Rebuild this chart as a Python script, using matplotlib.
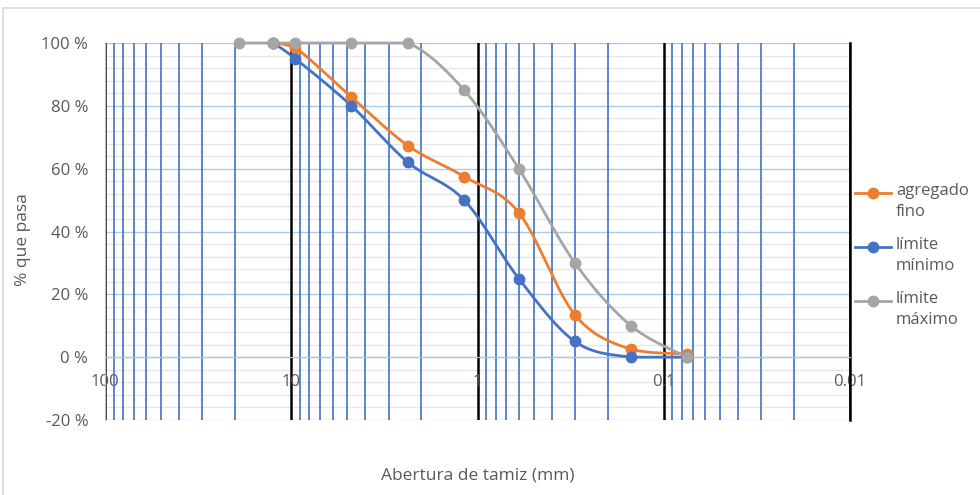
import numpy as np
import matplotlib.pyplot as plt
from matplotlib.lines import Line2D
from matplotlib.patches import Rectangle
from matplotlib.ticker import FixedLocator, FuncFormatter

plt.rcParams['font.family'] = ['Open Sans', 'DejaVu Sans']

# Data: sieve openings (mm) and % passing
sieve_fino = [12.5, 9.5, 4.75, 2.36, 1.18, 0.6, 0.3, 0.15, 0.075]
pasa_fino = [100, 98.5, 82.8, 67.3, 57.5, 46, 13.5, 2.5, 1]

sieve_min = [12.5, 9.5, 4.75, 2.36, 1.18, 0.6, 0.3, 0.15, 0.075]
pasa_min = [100, 95, 80, 62, 50, 25, 5, 0, 0]

sieve_max = [19, 12.5, 9.5, 4.75, 2.36, 1.18, 0.6, 0.3, 0.15, 0.075]
pasa_max = [100, 100, 100, 100, 100, 85, 60, 30, 10, 0]

labels = ['agregado\nfino', 'límite\nmínimo', 'límite\nmáximo']
colors = ['#ED7D31', '#4472C4', '#A5A5A5']
x_major = [100, 10, 1, 0.1, 0.01]
x_major_labels = ['100', '10', '1', '0.1', '0.01']
y_major = [-20, 0, 20, 40, 60, 80, 100]


def smooth(xs, ys, n=30):
    """Excel-like smoothed line (bezier) in log-x space, no overshoot"""
    px = np.log10(np.asarray(xs, float))
    py = np.asarray(ys, float)
    P = np.column_stack([px, py])
    P = np.vstack([P[0], P, P[-1]])
    out = []
    t = np.linspace(0, 1, n)[:, None]
    for i in range(1, len(P) - 2):
        p0, p3 = P[i], P[i + 1]
        c1 = p0 + (P[i + 1] - P[i - 1]) / 6
        c2 = p3 - (P[i + 2] - P[i]) / 6
        lo, hi = min(p0[1], p3[1]), max(p0[1], p3[1])
        c1[1] = np.clip(c1[1], lo, hi)
        c2[1] = np.clip(c2[1], lo, hi)
        seg = ((1 - t) ** 3) * p0 + 3 * ((1 - t) ** 2) * t * c1 \
            + 3 * (1 - t) * t ** 2 * c2 + t ** 3 * p3
        out.append(seg)
    seg = np.vstack(out)
    return 10 ** seg[:, 0], seg[:, 1]


fig = plt.figure(figsize=(9.8, 4.95), dpi=100)
fig.patches.append(Rectangle((3 / 980, -0.1), 1.2, 1 - 8 / 495 + 0.1,
                             transform=fig.transFigure, fill=False,
                             edgecolor='#D9D9D9', lw=1.2))
ax = fig.add_axes([105 / 980, 1 - 420 / 495, 745 / 980, 377 / 495])

ax.set_xscale('log')
ax.set_xlim(100, 0.01)
ax.set_ylim(-20, 100)

minor = [m * 10.0 ** k for k in range(-2, 2) for m in range(2, 10)]
ax.xaxis.set_major_locator(FixedLocator(x_major))
ax.xaxis.set_minor_locator(FixedLocator(minor))
ax.set_xticklabels(x_major_labels)
ax.xaxis.set_minor_formatter(FuncFormatter(lambda v, p: ''))
ax.yaxis.set_major_locator(FixedLocator(y_major))
ax.yaxis.set_minor_locator(FixedLocator(list(range(-20, 101, 4))))
ax.yaxis.set_major_formatter(FuncFormatter(lambda v, p: f'{v:.0f} %'))

ax.set_axisbelow(True)
ax.grid(which='minor', axis='y', color='#E6E6E6', lw=1)
ax.grid(which='major', axis='y', color='#A9CCEB', lw=1)
ax.grid(which='minor', axis='x', color='#4472C4', lw=1.2)
ax.grid(which='major', axis='x', color='black', lw=1.8)
# vertical lines sit over the horizontal ones
ax.xaxis.set_zorder(0.7)
ax.xaxis.get_major_ticks()[0].gridline.set_visible(False)
# right edge major line (0.01) is clipped by the axes, redraw it
ax.axvline(x_major[-1], color='black', lw=1.8, clip_on=False, zorder=0.8)

for s in ['top', 'right']:
    ax.spines[s].set_visible(False)
ax.spines['bottom'].set_position(('data', 0))
ax.spines['bottom'].set_color('#BFBFBF')
ax.spines['left'].set_color('#BFBFBF')
ax.spines['left'].set_zorder(3)
ax.tick_params(which='both', length=0)
ax.tick_params(axis='x', pad=12, labelsize=12, labelcolor='#595959')
ax.tick_params(axis='y', pad=12, labelsize=12, labelcolor='#595959')

series = [(sieve_fino, pasa_fino), (sieve_min, pasa_min),
          (sieve_max, pasa_max)]
for (xs, ys), c in zip(series, colors):
    sx, sy = smooth(xs, ys)
    ax.plot(sx, sy, color=c, lw=2, zorder=4, clip_on=False)
    ax.plot(xs, ys, 'o', color=c, ms=7.5, zorder=5, clip_on=False)

ax.set_xlabel('Abertura de tamiz (mm)', fontsize=12.5, color='#595959',
              labelpad=0)
ax.xaxis.set_label_coords(0.5, -0.125)
fig.text(23 / 980, 1 - 240 / 495, '% que pasa', rotation=90, fontsize=12.5,
         color='#595959', ha='center', va='center')

# Legend drawn by hand so the marker sits on the first text line
leg_y = [193, 247, 301]
for lab, c, yy in zip(labels, colors, leg_y):
    yf = 1 - yy / 495
    fig.add_artist(Line2D([855 / 980, 891 / 980], [yf, yf], color=c, lw=2,
                          transform=fig.transFigure))
    fig.add_artist(Line2D([873 / 980], [yf], marker='o', ms=7.5, color=c,
                          transform=fig.transFigure))
    fig.text(896 / 980, yf + 10 / 495, lab, fontsize=12, color='#595959',
             va='top', ha='left', linespacing=1.4)

fig.savefig('out.png', dpi=100)
